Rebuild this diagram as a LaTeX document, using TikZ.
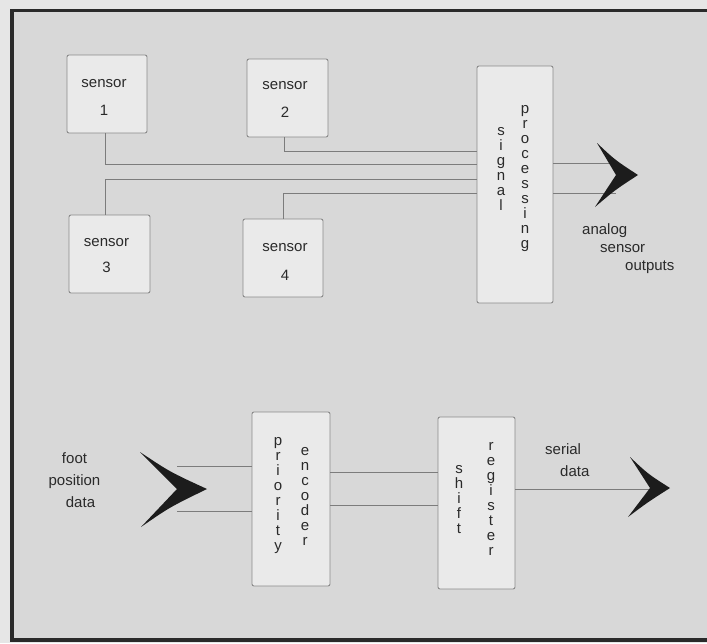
\documentclass[tikz,border=0pt]{standalone}
\usepackage{fontspec}
\setmainfont{Liberation Sans}
\usetikzlibrary{positioning}
\definecolor{paper}{HTML}{E6E6E6}
\definecolor{field}{HTML}{D8D8D8}
\definecolor{boxfill}{HTML}{EAEAEA}
\definecolor{boxline}{HTML}{8A8A8A}
\definecolor{wirecol}{HTML}{7C7C7C}
\definecolor{ink}{HTML}{2A2A2A}
\definecolor{chevcol}{HTML}{1C1C1C}
\tikzset{block/.style={rectangle,rounded corners=2pt,draw=boxline,fill=boxfill,line width=0.9pt,inner sep=0pt},
         lbl/.style={inner sep=0pt,text=ink,font=\fontsize{15}{15}\selectfont},
         letters/.style={lbl,align=center,anchor=north},
         wire/.style={draw=wirecol,line width=1pt},
         chevron/.style={fill=chevcol,draw=none},
}

\begin{document}
\begin{tikzpicture}[x=1pt,y=-1pt]

\useasboundingbox (0,0) rectangle (707,643);
\fill[paper] (0,0) rectangle (707,643);
\fill[field] (12,10.5) rectangle (707,640);
\draw[ink,line width=3.5pt] (707,10.5) -- (12,10.5) -- (12,640) -- (707,640);

% sensors and signal processing
\node[block,minimum width=80,minimum height=78] (s1) at (107,94) {};
\node[block,minimum width=81,minimum height=78] (s2) at (287.5,98) {};
\node[block,minimum width=81,minimum height=78] (s3) at (109.5,254) {};
\node[block,minimum width=80,minimum height=78] (s4) at (283,258) {};
\node[block,minimum width=76,minimum height=237] (sp) at (515,184.5) {};

\node[lbl,align=center] (t1) at (104,97) {sensor\\[13pt]1};
\node[lbl,align=center] (t2) at (285,99) {sensor\\[13pt]2};
\node[lbl,align=center] (t3) at (106.5,256) {sensor\\[11pt]3};
\node[lbl,align=center] (t4) at (285,262) {sensor\\[14pt]4};
\node[letters] (sig) at (501,127) {s\\i\\g\\n\\a\\l};
\node[letters] (proc) at (525,105) {p\\r\\o\\c\\e\\s\\s\\i\\n\\g};

\draw[wire] ([xshift=-3.5]s2.south) |- (sp.west |- 0,151);
\draw[wire] ([xshift=-2]s1.south) |- (sp.west |- 0,164);
\draw[wire] ([xshift=-4.5]s3.north) |- (sp.west |- 0,179);
\draw[wire] (s4.north) |- (sp.west |- 0,193);

\coordinate (outA) at (616,175);
\draw[wire] (sp.east |- 0,163) -- (outA |- 0,163);
\draw[wire] (sp.east |- 0,193) -- (outA |- 0,193);
\fill[chevron] (597,143) .. controls (615,160) .. (638,175)
  .. controls (615,190) .. (595,207) -- (outA) -- cycle;

\node[lbl,anchor=base west] (ao1) at (582,234) {analog};
\node[lbl,anchor=base west] (ao2) at (600,252) {sensor};
\node[lbl,anchor=base west] (ao3) at (625,270) {outputs};

% encoder and shift register
\node[block,minimum width=78,minimum height=174] (pe) at (291,499) {};
\node[block,minimum width=77,minimum height=172] (sr) at (476.5,503) {};
\node[letters] (prio) at (278,437) {p\\r\\i\\o\\r\\i\\t\\y};
\node[letters] (enc) at (305,447) {e\\n\\c\\o\\d\\e\\r};
\node[letters] (shf) at (459,465) {s\\h\\i\\f\\t};
\node[letters] (reg) at (491,442) {r\\e\\g\\i\\s\\t\\e\\r};

\coordinate (inA) at (177,489);
\draw[wire] (inA |- 0,466) -- (pe.west |- 0,466);
\draw[wire] (inA |- 0,511) -- (pe.west |- 0,511);
\fill[chevron] (140,452) .. controls (170,472) .. (207,489)
  .. controls (170,507) .. (141,527) -- (inA) -- cycle;

\draw[wire] (pe.east |- 0,472) -- (sr.west |- 0,472);
\draw[wire] (pe.east |- 0,505) -- (sr.west |- 0,505);

\coordinate (serA) at (650,488);
\draw[wire] (sr.east |- 0,489) -- (serA |- 0,489);
\fill[chevron] (630,457) .. controls (648,474) .. (670,488)
  .. controls (648,502) .. (628,517) -- (serA) -- cycle;

\node[lbl,anchor=base] (fp1) at (74.5,463) {foot};
\node[lbl,anchor=base] (fp2) at (74.5,485) {position};
\node[lbl,anchor=base] (fp3) at (80.5,507) {data};
\node[lbl,anchor=base west] (sd1) at (545,454) {serial};
\node[lbl,anchor=base west] (sd2) at (560,476) {data};
\end{tikzpicture}
\end{document}
